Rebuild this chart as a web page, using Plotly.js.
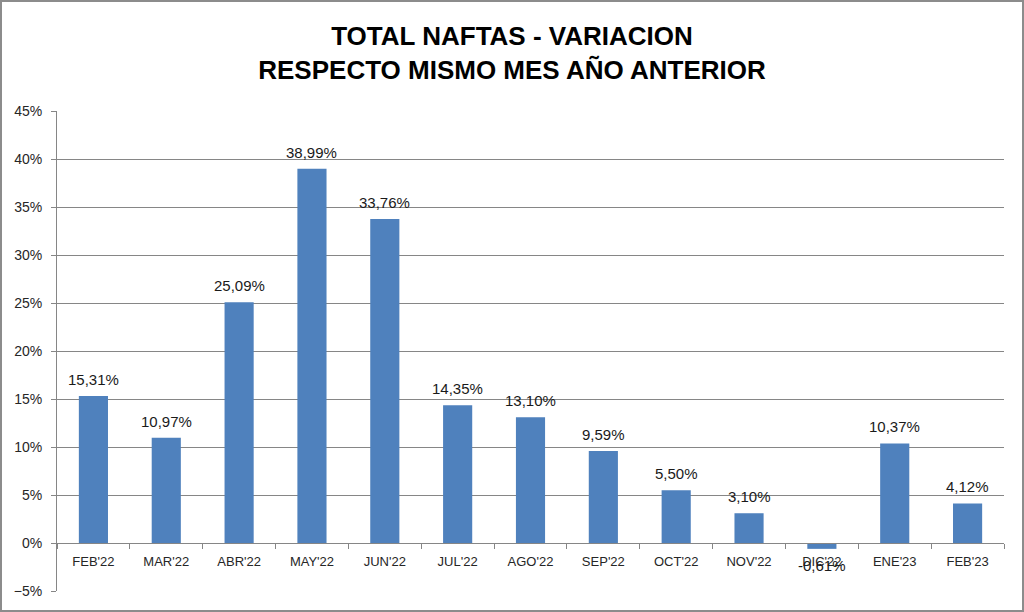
<!DOCTYPE html>
<html>
<head>
<meta charset="utf-8">
<script src="https://cdn.plot.ly/plotly-3.0.1.min.js"></script>
<style>
  html, body { margin: 0; padding: 0; background: #fff; }
  #chart { width: 1020px; height: 608px; border: 2px solid #8c8c8c; }
</style>
</head>
<body>
<div id="chart"></div>
<script>
const categories = ["FEB'22", "MAR'22", "ABR'22", "MAY'22", "JUN'22", "JUL'22", "AGO'22", "SEP'22", "OCT'22", "NOV'22", "DIC'22", "ENE'23", "FEB'23"];
const variation = [15.31, 10.97, 25.09, 38.99, 33.76, 14.35, 13.10, 9.59, 5.50, 3.10, -0.61, 10.37, 4.12];
const titleLines = ["TOTAL NAFTAS - VARIACION", "RESPECTO MISMO MES AÑO ANTERIOR"];

const fmt = v => v.toFixed(2).replace('.', ',') + '%';

const annotations = categories.map((c, i) => ({
  x: c, y: variation[i], xref: 'x', yref: 'y',
  text: fmt(variation[i]), showarrow: false,
  yanchor: variation[i] >= 0 ? 'bottom' : 'top',
  yshift: variation[i] >= 0 ? 6 : -6,
  font: { family: 'Liberation Sans, Arial, sans-serif', size: 15, color: '#1a1a1a' }
}));

const data = [{
  type: 'bar', x: categories, y: variation,
  marker: { color: '#4f81bd', line: { width: 0 } },
  hoverinfo: 'x+y'
}];

const layout = {
  width: 1020, height: 608,
  margin: { l: 55, r: 18, t: 109, b: 19 },
  paper_bgcolor: '#ffffff', plot_bgcolor: '#ffffff',
  showlegend: false,
  bargap: 0.6,
  title: {
    text: '<b>' + titleLines.join('<br>') + '</b>',
    font: { family: 'Liberation Sans Narrow, Arial Narrow, sans-serif', size: 26, color: '#000' },
    x: 0.5, xanchor: 'center', xref: 'container',
    y: 0.929, yanchor: 'middle', yref: 'container'
  },
  xaxis: {
    type: 'category', anchor: 'free', position: 0.1,
    showline: true, linecolor: '#868686', linewidth: 1,
    ticks: 'outside', tickson: 'boundaries', ticklen: 5, tickcolor: '#868686',
    showgrid: false, zeroline: false,
    ticklabelstandoff: 6,
    tickfont: { family: 'Liberation Sans, Arial, sans-serif', size: 13, color: '#262626' }
  },
  yaxis: {
    range: [-5, 45], dtick: 5, ticksuffix: '%',
    showline: true, linecolor: '#868686', linewidth: 1,
    ticks: 'outside', ticklen: 5, tickcolor: '#868686',
    showgrid: true, gridcolor: '#868686', gridwidth: 1,
    zeroline: false,
    ticklabelstandoff: 6,
    tickfont: { family: 'Liberation Sans, Arial, sans-serif', size: 14, color: '#262626' }
  },
  annotations: annotations,
  separators: ',.'
};

Plotly.newPlot('chart', data, layout, { displayModeBar: false, staticPlot: true });
</script>
</body>
</html>
